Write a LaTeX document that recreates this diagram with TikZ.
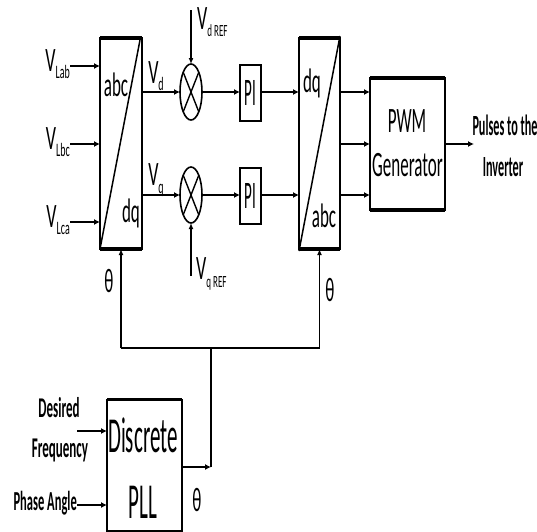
\documentclass[tikz,border=0pt]{standalone}
\usepackage{fontspec}
\setmainfont{Carlito}
\usepackage{graphicx}
\usetikzlibrary{shapes.geometric,arrows.meta}
\newcommand{\tx}[2][2]{\scalebox{1}[#1]{#2}}
\newcommand{\Vsub}[2][10]{V\raisebox{-0.45ex}{\fontsize{#1}{#1}\selectfont #2}}
\begin{document}
\begin{tikzpicture}[x=1pt,y=-1pt,
 blk/.style={draw, line width=2pt, inner sep=0pt, outer sep=0pt},
 ell/.style={draw, ellipse, line width=1.6pt, inner sep=0pt, outer sep=0pt, minimum width=22pt, minimum height=56pt},
 lbl/.style={inner sep=0pt, font=\fontsize{17}{17}\selectfont},
 vlbl/.style={inner sep=0pt, font=\fontsize{18}{18}\selectfont},
 bsm/.style={inner sep=0pt, font=\fontsize{13}{13}\selectfont\bfseries},
 wire/.style={line width=2.5pt, -{Latex[length=6pt,width=6pt]}},
 fb/.style={line width=1.6pt},
 fbarr/.style={line width=1.6pt, -{Latex[length=6pt,width=5pt]}},
 edge/.style={line width=3.5pt},
]
\useasboundingbox (0,0) rectangle (537,531);

% abc/dq block
\node[blk, minimum width=42pt, minimum height=211pt] (b1) at (121,143.5) {};
\draw[edge] (b1.north west) -- (b1.north east);
\draw[edge] (b1.south west) -- (b1.south east);
\draw[line width=1.5pt] (b1.south west) -- ([xshift=-2pt,yshift=-2pt]b1.north east);
\node[lbl] (abc1) at (116,85) {\tx{abc}};
\node[lbl] (dq1) at (131,213) {\tx{dq}};

% inputs
\node[vlbl, anchor=east] (vlab) at (70,64) {\tx[1.9]{\Vsub{Lab}}};
\node[vlbl, anchor=east] (vlbc) at (70,142) {\tx[1.9]{\Vsub{Lbc}}};
\node[vlbl, anchor=east] (vlca) at (70,220) {\tx[1.9]{\Vsub{Lca}}};
\coordinate (i1) at (70,66);
\coordinate (i2) at (70,144);
\coordinate (i3) at (70,222);
\draw[wire] (i1) -- (i1 -| b1.west);
\draw[wire] (i2) -- (i2 -| b1.west);
\draw[wire] (i3) -- (i3 -| b1.west);

% comparators
\node[ell] (c1) at (191,92) {};
\draw[line width=1.4pt] (c1.north west) -- (c1.south east) (c1.north east) -- (c1.south west);
\node[ell] (c2) at (191,195) {};
\draw[line width=1.4pt] (c2.north west) -- (c2.south east) (c2.north east) -- (c2.south west);

\node[vlbl] (vd) at (156,76) {\tx[1.9]{\Vsub{d}}};
\node[vlbl] (vq) at (156,180) {\tx[1.9]{\Vsub{q}}};
\draw[wire] (c1.west -| b1.east) -- (c1.west);
\draw[wire] (c2.west -| b1.east) -- (c2.west);

% references
\coordinate (vdtop) at (191,10);
\draw[fbarr] (vdtop) -- (c1.north);
\node[vlbl, anchor=west] (vdref) at (197,22) {\tx[1.9]{\Vsub[9]{d REF}}};
\coordinate (vqbot) at (191,276);
\draw[fbarr] (vqbot) -- (c2.south);
\node[vlbl, anchor=west] (vqref) at (196,274) {\tx[1.9]{\Vsub[9]{q REF}}};

% PI blocks
\node[blk, minimum width=21pt, minimum height=56pt, font=\fontsize{15}{15}\selectfont] (pi1) at (250.5,93) {\tx[2.6]{PI}};
\node[blk, minimum width=21pt, minimum height=56pt, font=\fontsize{15}{15}\selectfont] (pi2) at (250.5,195.5) {\tx[2.6]{PI}};
\draw[wire] (c1.east) -- (c1.east -| pi1.west);
\draw[wire] (c2.east) -- (c2.east -| pi2.west);

% dq/abc block
\node[blk, minimum width=41pt, minimum height=211pt] (b2) at (319.5,143.5) {};
\draw[edge] (b2.north west) -- (b2.north east);
\draw[edge] (b2.south west) -- (b2.south east);
\draw[line width=1.5pt] ([yshift=-2pt]b2.south west) -- ([yshift=2pt]b2.north east);
\node[lbl] (dq2) at (312,83) {\tx{dq}};
\node[lbl] (abc2) at (324,216) {\tx{abc}};
\draw[wire] (c1 -| pi1.east) -- (c1 -| b2.west);
\draw[wire] (c2 -| pi2.east) -- (c2 -| b2.west);

% PWM generator
\node[blk, minimum width=75pt, minimum height=132pt] (pwm) at (407.5,144) {};
\draw[edge] (pwm.north west) -- (pwm.north east);
\draw[edge] (pwm.south west) -- (pwm.south east);
\node[lbl] (pwmt) at (407,121) {\tx[2.1]{PWM}};
\node[lbl] (gent) at (407.5,165) {\tx[2.1]{Generator}};
\draw[wire] (c1 -| b2.east) -- (c1 -| pwm.west);
\draw[wire] (b2.east |- pwm.west) -- (pwm.west);
\draw[wire] (c2 -| b2.east) -- (c2 -| pwm.west);

% output
\coordinate (outp) at (474,144);
\draw[wire] (pwm.east) -- (outp);
\node[inner sep=0pt, font=\fontsize{12.2}{12.2}\selectfont\bfseries] (pul) at (505,125) {\tx[2.4]{Pulses to the}};
\node[inner sep=0pt, font=\fontsize{12.2}{12.2}\selectfont\bfseries] (inv) at (503,167) {\tx[2.4]{Inverter}};

% theta feedback
\coordinate (t1) at (121,348);
\coordinate (t2) at (319.5,348);
\coordinate (tj) at (211,348);
\draw[line width=2.5pt] (t1) -- (t2);
\draw[fbarr] (t1) -- (b1.south);
\draw[fbarr] (t2) -- (b2.south);
\node[lbl] (th1) at (109,281) {\tx{θ}};
\node[lbl] (th2) at (330,290) {\tx{θ}};

% PLL
\node[blk, minimum width=75pt, minimum height=131pt] (pll) at (144.5,465) {};
\draw[edge] (pll.north west) -- (pll.north east);
\node[inner sep=0pt, font=\fontsize{21}{21}\selectfont] (disc) at (143,435) {\tx[2.4]{Discrete}};
\node[inner sep=0pt, font=\fontsize{21}{21}\selectfont] (pllt) at (143,502) {\tx[2.4]{PLL}};
\coordinate (pj) at (211,467);
\draw[wire] (pll.east |- pj) -- (pj);
\draw[fb] (pj) -- (tj);
\node[lbl] (th3) at (197,500) {\tx{θ}};

% PLL inputs
\node[bsm] (des) at (59,408) {\tx[2.2]{Desired}};
\node[bsm] (freq) at (60,450) {\tx[2.2]{Frequency}};
\coordinate (df) at (77,431);
\draw[wire] (df) -- (df -| pll.west);
\node[inner sep=0pt, font=\fontsize{12.5}{12.5}\selectfont\bfseries, anchor=east] (pa) at (77,503) {\tx[2.2]{Phase Angle}};
\coordinate (pa0) at (77,505);
\draw[wire] (pa0) -- (pa0 -| pll.west);
\end{tikzpicture}
\end{document}
